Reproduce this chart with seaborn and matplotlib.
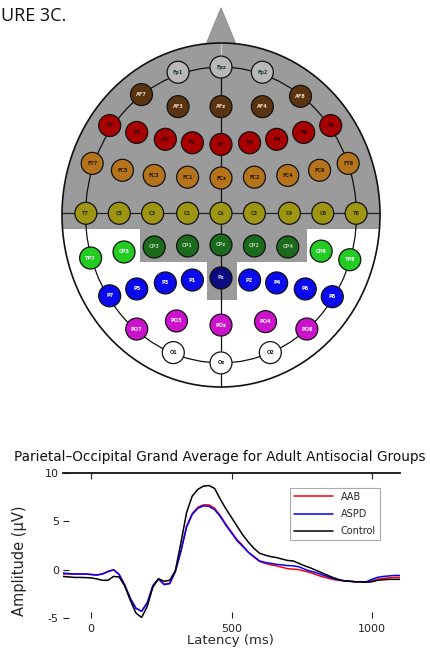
import numpy as np
import pandas as pd
import matplotlib
matplotlib.use("Agg")
import matplotlib.pyplot as plt
from matplotlib.patches import Ellipse, Rectangle, Polygon
import seaborn as sns

# ---------------- data ----------------
times = [-100, -80, -60, -40, -20, 0, 20, 40, 60, 80, 100, 120, 140, 160, 180, 200,
         220, 240, 260, 280, 300, 320, 340, 360, 380, 400, 420, 440, 460, 480, 500,
         520, 540, 560, 580, 600, 620, 640, 660, 680, 700, 720, 740, 760, 780, 800,
         820, 840, 860, 880, 900, 920, 940, 960, 980, 1000, 1020, 1040, 1060, 1080, 1100]
aab = [-0.45, -0.45, -0.45, -0.45, -0.45, -0.5, -0.55, -0.45, -0.2, -0.02, -0.5, -1.6,
       -3.0, -4.0, -4.3, -3.5, -1.7, -0.95, -1.5, -1.4, -0.2, 2.0, 4.5, 5.8, 6.45, 6.7,
       6.7, 6.35, 5.6, 4.7, 3.9, 3.1, 2.5, 1.8, 1.3, 0.85, 0.65, 0.5, 0.4, 0.25, 0.1,
       0.05, 0.0, -0.15, -0.3, -0.5, -0.7, -0.85, -1.0, -1.1, -1.15, -1.2, -1.25, -1.25,
       -1.3, -1.15, -1.0, -0.9, -0.85, -0.8, -0.8]
aspd = [-0.35, -0.4, -0.45, -0.45, -0.45, -0.5, -0.55, -0.45, -0.2, 0.0, -0.5, -1.6,
        -3.0, -4.0, -4.3, -3.4, -1.65, -0.95, -1.55, -1.45, -0.2, 1.9, 4.4, 5.7, 6.35, 6.6,
        6.55, 6.2, 5.5, 4.6, 3.8, 3.0, 2.4, 1.8, 1.35, 0.9, 0.75, 0.65, 0.55, 0.5, 0.42,
        0.4, 0.3, 0.05, -0.15, -0.3, -0.5, -0.7, -0.9, -1.05, -1.15, -1.2, -1.25, -1.25,
        -1.25, -1.0, -0.8, -0.7, -0.65, -0.6, -0.6]
control = [-0.7, -0.75, -0.8, -0.8, -0.82, -0.85, -0.95, -1.1, -1.1, -0.7, -0.75, -1.7,
           -3.2, -4.5, -4.95, -3.8, -1.8, -0.95, -1.2, -1.1, -0.1, 2.8, 5.9, 7.6, 8.3, 8.65,
           8.7, 8.4, 7.3, 6.3, 5.4, 4.5, 3.6, 2.85, 2.2, 1.7, 1.5, 1.35, 1.25, 1.1, 0.95,
           0.9, 0.65, 0.4, 0.2, -0.05, -0.3, -0.55, -0.8, -1.0, -1.15, -1.2, -1.25, -1.25,
           -1.3, -1.25, -1.1, -1.05, -1.0, -1.0, -1.0]
group_names = ["AAB", "ASPD", "Control"]
line_colors = ["#ff0000", "#0000ff", "#000000"]
x_ticks = [0, 500, 1000]
y_ticks = [-5, 0, 5, 10]

# electrode montage (normalised head coordinates, nose up)
el_names = ["Fp1", "Fpz", "Fp2",
            "AF7", "AF3", "AFz", "AF4", "AF8",
            "F7", "F5", "F3", "F1", "Fz", "F2", "F4", "F6", "F8",
            "FT7", "FC5", "FC3", "FC1", "FCz", "FC2", "FC4", "FC6", "FT8",
            "T7", "C5", "C3", "C1", "Cz", "C2", "C4", "C6", "T8",
            "TP7", "CP5", "CP3", "CP1", "CPz", "CP2", "CP4", "CP6", "TP8",
            "P7", "P5", "P3", "P1", "Pz", "P2", "P4", "P6", "P8",
            "PO7", "PO3", "POz", "PO4", "PO8",
            "O1", "Oz", "O2"]
el_x = [-0.27, 0.0, 0.26,
        -0.50, -0.27, 0.0, 0.26, 0.50,
        -0.70, -0.53, -0.35, -0.18, 0.0, 0.18, 0.35, 0.52, 0.69,
        -0.81, -0.62, -0.42, -0.21, 0.0, 0.21, 0.42, 0.62, 0.80,
        -0.85, -0.64, -0.43, -0.21, 0.0, 0.21, 0.43, 0.64, 0.85,
        -0.82, -0.61, -0.42, -0.21, 0.0, 0.21, 0.42, 0.63, 0.81,
        -0.70, -0.53, -0.35, -0.18, 0.0, 0.18, 0.35, 0.53, 0.70,
        -0.53, -0.28, 0.0, 0.28, 0.54,
        -0.30, 0.0, 0.31]
el_y = [0.83, 0.86, 0.83,
        0.70, 0.63, 0.63, 0.63, 0.69,
        0.52, 0.48, 0.44, 0.42, 0.41, 0.42, 0.44, 0.48, 0.52,
        0.30, 0.26, 0.23, 0.22, 0.215, 0.22, 0.23, 0.26, 0.30,
        0.01, 0.01, 0.01, 0.01, 0.01, 0.01, 0.01, 0.01, 0.01,
        -0.25, -0.215, -0.186, -0.18, -0.174, -0.18, -0.186, -0.21, -0.26,
        -0.47, -0.43, -0.395, -0.378, -0.366, -0.378, -0.395, -0.43, -0.475,
        -0.663, -0.616, -0.64, -0.62, -0.663,
        -0.80, -0.86, -0.80]
el_group = (["Fp"] * 3 + ["AF"] * 5 + ["F"] * 9 + ["FC"] * 9 + ["C"] * 9
            + ["CPo", "CPo", "CPi", "CPi", "CPi", "CPi", "CPi", "CPo", "CPo"]
            + ["P", "P", "P", "P", "Pz", "P", "P", "P", "P"]
            + ["PO"] * 5 + ["O"] * 3)
group_fill = {"Fp": "#b8b8b8", "AF": "#5a3410", "F": "#a80000", "FC": "#b5741c",
              "C": "#9e9612", "CPo": "#22cc22", "CPi": "#1c6a1c", "P": "#0a0aee",
              "Pz": "#0c0c80", "PO": "#cc12cc", "O": "#ffffff"}
group_text = {"Fp": "#1d3a3a", "AF": "#e8d8c0", "F": "#2a0000", "FC": "#2a1a00",
              "C": "#2a2a00", "CPo": "#ffffff", "CPi": "#b0d0b0", "P": "#ffffff",
              "Pz": "#c0c0ff", "PO": "#ffffff", "O": "#202020"}

# ---------------- figure ----------------
sns.set_theme(style="white")
plt.rcParams["font.family"] = ["DejaVu Sans"]
W, H = 431, 659
fig = plt.figure(figsize=(W / 100, H / 100), dpi=100)

fig.text(1 / W, 1 - 16 / H, "URE 3C.", ha="left", va="center",
         fontsize=13, family=["Open Sans", "DejaVu Sans"], color="#111111")

# ---- head map ----
cx, cy, rx, ry = 221, 215, 159, 172
xl, yl_lo, yl_hi = 1.02, -1.02, 1.22
axh = fig.add_axes([(cx - xl * rx) / W, (H - (cy - yl_lo * ry)) / H,
                    2 * xl * rx / W, (yl_hi - yl_lo) * ry / H])
axh.set_xlim(-xl, xl)
axh.set_ylim(yl_lo, yl_hi)
axh.axis("off")

gray = "#9b9b9b"
nose = Polygon([(-0.1, 0.98), (0.0, 1.205), (0.1, 0.98)], closed=True,
               facecolor=gray, edgecolor="#8a8a8a", lw=0.6, zorder=1)
axh.add_patch(nose)
head_clip = Ellipse((0, 0), 2, 2, transform=axh.transData)
for (x0, y0, w, h) in [(-1.1, -0.081, 2.2, 1.2), (-0.51, -0.273, 1.05, 0.2),
                       (-0.085, -0.494, 0.185, 0.23)]:
    r = Rectangle((x0, y0), w, h, facecolor=gray, edgecolor="none", zorder=1)
    axh.add_patch(r)
    r.set_clip_path(head_clip)
axh.add_patch(Ellipse((0, 0), 2 * 0.852, 2 * 0.86, facecolor="none",
                      edgecolor="#111111", lw=0.9, zorder=2))
axh.plot([0, 0], [0.86, -1.0], color="#111111", lw=0.9, zorder=2)
axh.plot([0, 0], [1.0, 0.86], color="#c8c8c8", lw=1.0, zorder=2)
axh.plot([-1.0, 1.0], [0.01, 0.01], color="#222222", lw=0.9, zorder=2)
axh.add_patch(Ellipse((0, 0), 2, 2, facecolor="none", edgecolor="#111111",
                      lw=1.2, zorder=3))

el_df = pd.DataFrame({"x": el_x, "y": el_y, "group": el_group, "name": el_names})
sns.scatterplot(data=el_df, x="x", y="y", hue="group", palette=group_fill,
                s=250, edgecolor="#111111", linewidth=0.9, legend=False,
                ax=axh, zorder=4)
axh.set_xlabel("")
axh.set_ylabel("")
axh.axis("off")
for nm, x, y, g in zip(el_names, el_x, el_y, el_group):
    axh.text(x, y, nm, ha="center", va="center", fontsize=3.6,
             fontweight="bold", color=group_text[g], zorder=5)

# ---- ERP chart ----
axl, axr, axt, axb = 63, 400, 473, 618
ax = fig.add_axes([axl / W, 1 - axb / H, (axr - axl) / W, (axb - axt) / H])
rows = []
for g, vals in zip(group_names, [aab, aspd, control]):
    for t, v in zip(times, vals):
        rows.append((t, v, g))
df = pd.DataFrame(rows, columns=["t", "v", "group"])
sns.lineplot(data=df, x="t", y="v", hue="group", hue_order=group_names,
             palette=dict(zip(group_names, line_colors)), estimator=None,
             linewidth=1.1, ax=ax)
ax.set_xlim(-100, 1100)
ax.set_ylim(-5, 10)
ax.set_xticks(x_ticks)
ax.set_yticks(y_ticks)
ax.set_xticklabels([str(v) for v in x_ticks])
ax.set_yticklabels([str(v) for v in y_ticks])
for s in ["left", "right", "bottom"]:
    ax.spines[s].set_visible(False)
ax.spines["top"].set_visible(True)
ax.spines["top"].set_color("#111111")
ax.spines["top"].set_linewidth(1.3)
ax.tick_params(axis="y", direction="in", length=4, width=0.8, pad=3,
               labelsize=8, left=True, colors="#222222")
ax.tick_params(axis="x", direction="in", length=4, width=0.8, pad=4,
               labelsize=8, bottom=True, top=True, colors="#222222")
ax.set_xlabel("Latency (ms)", fontsize=9.5)
ax.set_ylabel("Amplitude (µV)", fontsize=10.5)
ax.xaxis.set_label_coords(0.4955, -0.11)
ax.yaxis.set_label_coords(-0.107, 0.393)
fig.text(220 / W, 1 - 457 / H,
         "Parietal\u2013Occipital Grand Average for Adult Antisocial Groups",
         ha="center", va="center", fontsize=9.8, color="#111111")
leg = ax.legend(loc="upper right", bbox_to_anchor=((380 - axl) / (axr - axl),
                (axb - 488) / (axb - axt)), frameon=True, fontsize=7,
                handlelength=4.0, labelspacing=0.75, borderaxespad=0,
                fancybox=False, edgecolor="#aaaaaa", framealpha=1, title=None)
leg.get_frame().set_linewidth(0.8)

fig.savefig("out.png", dpi=100)
